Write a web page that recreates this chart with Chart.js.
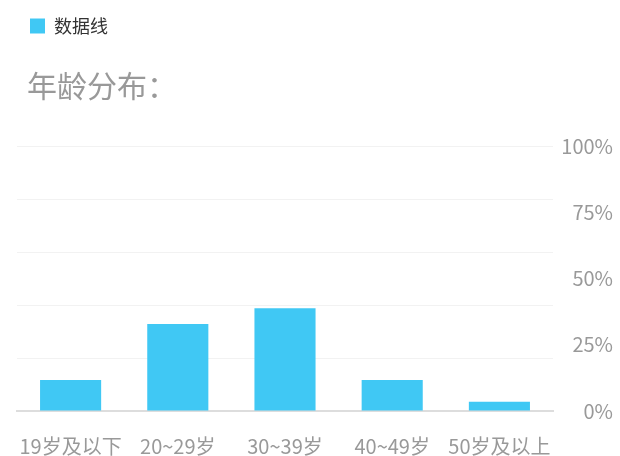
<!DOCTYPE html>
<html>
<head>
<meta charset="utf-8">
<script src="https://cdn.jsdelivr.net/npm/chart.js@4"></script>
<style>
    html, body { margin: 0; padding: 0; background: #fff; }
    #wrap { width: 620px; height: 456px; }
</style>
</head>
<body>
<div id="wrap"><canvas id="age-chart"></canvas></div>
<script>
const ageGroups = ['19岁及以下', '20~29岁', '30~39岁', '40~49岁', '50岁及以上']
const shares = [11.7, 32.8, 38.8, 11.7, 3.5]
const percentTicks = [0, 25, 50, 75, 100]

const font = "'Noto Sans CJK SC', 'Microsoft YaHei', sans-serif"

// legend and title sit a bit further right than the plot area
const shiftHeader = {
    id: 'shiftHeader',
    afterLayout(chart) {
        chart.legend.left = 26
        chart.titleBlock.left = 27
    }
}

let ageChart = new Chart(document.getElementById('age-chart'), {
    type: 'bar',
    data: {
        labels: ageGroups,
        datasets: [
            {
                label: '数据线',
                backgroundColor: '#40c8f4',
                borderWidth: 0,
                categoryPercentage: 1,
                barPercentage: 0.57,
                data: shares
            }
        ]
    },
    plugins: [shiftHeader],
    options: {
        animation: false,
        responsive: true,
        maintainAspectRatio: false,
        layout: {
            padding: { top: 13, right: 7, bottom: 0, left: 17 }
        },
        plugins: {
            legend: {
                align: 'start',
                weight: 1000,
                labels: {
                    boxWidth: 15,
                    boxHeight: 15,
                    padding: 4,
                    color: '#333333',
                    font: { size: 18, family: font }
                }
            },
            title: {
                display: true,
                text: '年龄分布：',
                align: 'start',
                weight: 500,
                color: '#999999',
                font: { size: 30, weight: 'normal', family: font },
                padding: { top: 23, bottom: 42 }
            },
            tooltip: { enabled: false }
        },
        scales: {
            x: {
                grid: { display: false },
                border: { color: '#dddddd', width: 2 },
                afterFit: function(scale) { scale.height = 45 },
                ticks: {
                    color: '#999999',
                    padding: 15,
                    maxRotation: 0,
                    minRotation: 0,
                    autoSkip: false,
                    font: { size: 20, family: font }
                }
            },
            y: {
                position: 'left',
                min: 0,
                max: 100,
                grid: { color: '#f2f2f2', drawTicks: false },
                border: { display: false },
                ticks: { display: false, stepSize: 20 },
                afterFit: function(scale) { scale.width = 0 }
            },
            y2: {
                position: 'right',
                min: 0,
                max: 100,
                grid: { display: false },
                border: { display: false },
                afterBuildTicks: function(scale) {
                    scale.ticks = percentTicks.map(v => ({ value: v }))
                },
                afterFit: function(scale) { scale.width = 60 },
                ticks: {
                    crossAlign: 'far',
                    color: '#999999',
                    font: { size: 20, family: font },
                    callback: function(value) {
                        return value + '%'
                    }
                }
            }
        }
    }
})
</script>
</body>
</html>
